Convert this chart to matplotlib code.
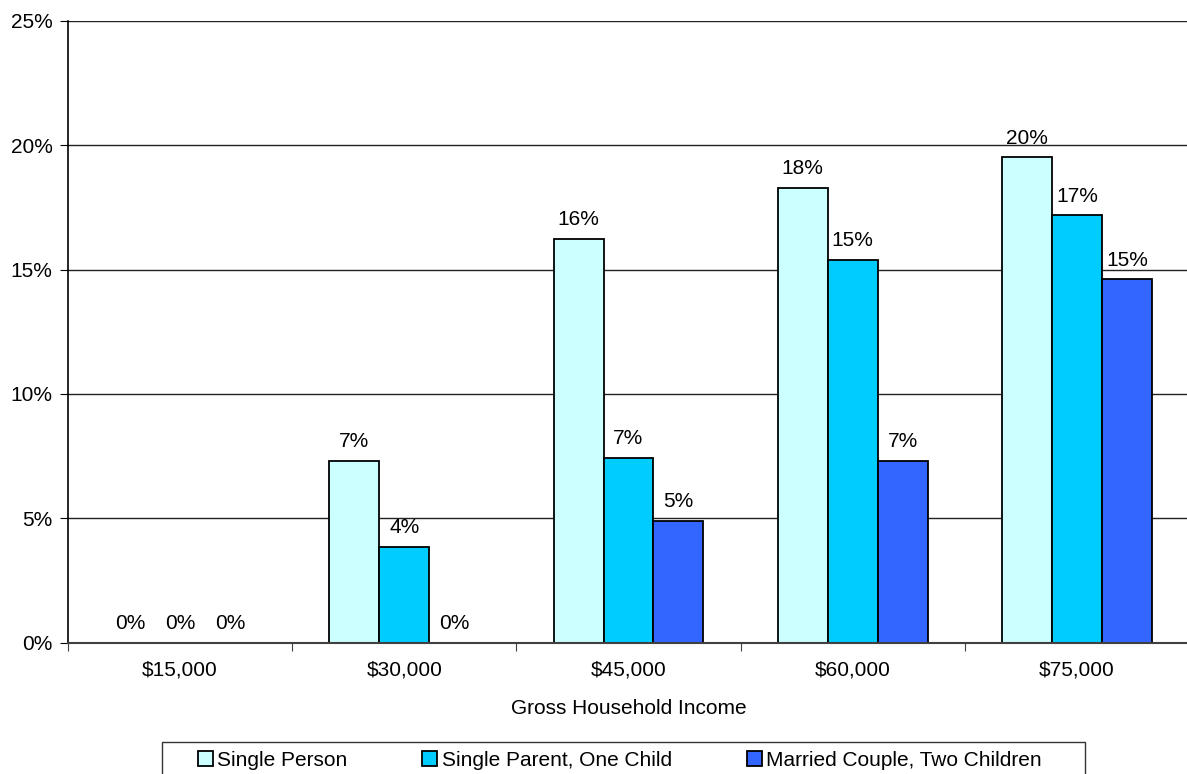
import numpy as np
import matplotlib
matplotlib.use('Agg')
import matplotlib.pyplot as plt
from matplotlib.patches import Patch, Rectangle

plt.rcParams['font.family'] = ['Liberation Sans', 'DejaVu Sans']

# datos
ingresos = ['$15,000', '$30,000', '$45,000', '$60,000', '$75,000']
series = ['Single Person', 'Single Parent, One Child', 'Married Couple, Two Children']
single_person = [0.0, 7.31, 16.24, 18.29, 19.52]
single_parent = [0.0, 3.84, 7.43, 15.40, 17.18]
married_couple = [0.0, 0.0, 4.89, 7.30, 14.61]
colores = ['#CCFFFF', '#00CCFF', '#3366FF']

fs = 15

fig = plt.figure(figsize=(11.87, 7.74), dpi=100)
ax = fig.add_axes([68 / 1187, 1 - 642.5 / 774, 1121 / 1187, 621.5 / 774])

x = np.arange(len(ingresos))
ancho = 0.223
valores = [single_person, single_parent, married_couple]

for i, (vals, color) in enumerate(zip(valores, colores)):
    pos = x + (i - 1) * ancho
    ax.bar(pos, vals, width=ancho, color=color, edgecolor='black', linewidth=1.3, zorder=3)
    # etiquetas de porcentaje
    for px, v in zip(pos, vals):
        ax.annotate(f'{v:.0f}%', (px, v), xytext=(0, 7), textcoords='offset points',
                    ha='center', va='bottom', fontsize=fs)

# Ejes
ax.set_xlim(-0.5, 4.5)
ax.set_ylim(0, 25)
ax.set_yticks([0, 5, 10, 15, 20, 25])
ax.set_yticklabels([f'{t}%' for t in [0, 5, 10, 15, 20, 25]], fontsize=fs)
ax.set_xticks(np.arange(-0.5, 5, 1))
ax.set_xticklabels([])
ax.set_xticks(x, minor=True)
ax.set_xticklabels(ingresos, minor=True, fontsize=fs)
ax.tick_params(axis='x', which='minor', length=0, pad=13)
ax.tick_params(axis='x', which='major', length=6, color='#404040')
ax.tick_params(axis='y', length=6, pad=5)
ax.set_xlabel('Gross Household Income', fontsize=fs, labelpad=14)

ax.grid(axis='y', color='#222222', linewidth=1, zorder=0)
for s in ['top', 'right']:
    ax.spines[s].set_visible(False)
ax.spines['bottom'].set_color('#404040')
ax.spines['bottom'].set_linewidth(1.5)
ax.spines['bottom'].set_zorder(5)
ax.spines['left'].set_linewidth(1.2)

# Leyenda
handles = [Patch(facecolor=c, edgecolor='black', linewidth=1.3) for c in colores]
leg = fig.legend(handles, series, loc='center left', bbox_to_anchor=(198 / 1187, 1 - 760 / 774),
                 ncol=3, fontsize=fs, frameon=False,
                 handlelength=0.72, handleheight=0.72, handletextpad=0.2, columnspacing=3.6,
                 borderpad=0, borderaxespad=0)
# marco de la leyenda
fig.patches.append(Rectangle((162 / 1187, -0.05), (1085 - 162) / 1187, 0.05 + 32 / 774,
                             transform=fig.transFigure, fill=False, edgecolor='#333333',
                             linewidth=1))

fig.savefig('out.png', dpi=100)
